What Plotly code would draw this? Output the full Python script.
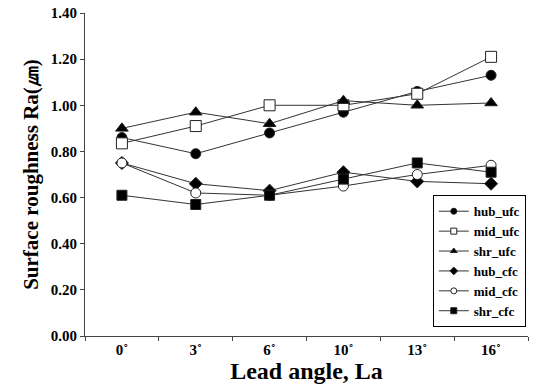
import plotly.graph_objects as go

angles = ["0˚", "3˚", "6˚", "10˚", "13˚", "16˚"]
hub_ufc = [0.86, 0.79, 0.88, 0.97, 1.06, 1.13]
mid_ufc = [0.835, 0.91, 1.00, 1.00, 1.05, 1.21]
shr_ufc = [0.90, 0.97, 0.92, 1.02, 1.00, 1.01]
hub_cfc = [0.75, 0.66, 0.63, 0.71, 0.67, 0.66]
mid_cfc = [0.75, 0.62, 0.61, 0.65, 0.70, 0.74]
shr_cfc = [0.61, 0.57, 0.61, 0.68, 0.75, 0.71]
y_ticks = [0.0, 0.2, 0.4, 0.6, 0.8, 1.0, 1.2, 1.4]

series = [
    ("hub_ufc", hub_ufc, "circle", "black", 10),
    ("mid_ufc", mid_ufc, "square", "white", 11),
    ("shr_ufc", shr_ufc, "triangle-up", "black", 11),
    ("hub_cfc", hub_cfc, "diamond", "black", 10),
    ("mid_cfc", mid_cfc, "circle", "white", 10),
    ("shr_cfc", shr_cfc, "square", "black", 10),
]

fig = go.Figure()
for name, vals, sym, col, sz in series:
    fig.add_trace(go.Scatter(
        x=angles, y=vals, name=name, mode="lines+markers", showlegend=False,
        line=dict(color="#333333", width=1),
        marker=dict(symbol=sym, size=sz, color=col,
                    line=dict(color="#222222", width=1)),
    ))
for name, vals, sym, col, sz in series:
    fig.add_trace(go.Scatter(
        x=[None], y=[None], name=name, mode="lines+markers",
        line=dict(color="#333333", width=1),
        marker=dict(symbol=sym, size=6, color=col,
                    line=dict(color="#222222", width=1)),
    ))

font_family = "Liberation Serif"
fig.update_layout(
    width=533, height=385,
    margin=dict(l=85, r=5, t=9, b=49),
    plot_bgcolor="white", paper_bgcolor="white",
    showlegend=True,
    font=dict(family=font_family, color="black"),
    legend=dict(
        x=0.995, y=0.027, xanchor="right", yanchor="bottom",
        bordercolor="black", borderwidth=1, bgcolor="white",
        font=dict(family=font_family, size=13, color="black", weight="bold"),
        tracegroupgap=0, itemwidth=30,
    ),
    xaxis=dict(
        type="category", range=[-0.5, 5.5],
        tickvals=angles, ticktext=[f"<b>{a}</b>" for a in angles],
        showline=True, linecolor="#444444", linewidth=1,
        ticks="outside", tickson="boundaries", ticklen=4, tickcolor="#444444",
        showgrid=False, zeroline=False,
        tickfont=dict(family=font_family, size=15, color="black"),
        title=dict(text="<b>Lead angle, La</b>", font=dict(family=font_family, size=24), standoff=4),
    ),
    yaxis=dict(
        range=[0, 1.4], tickvals=y_ticks,
        ticktext=[f"<b>{v:.2f}</b>" for v in y_ticks],
        showline=True, linecolor="#444444", linewidth=1,
        ticks="outside", ticklen=4, tickcolor="#444444",
        showgrid=False, zeroline=False,
        tickfont=dict(family=font_family, size=15, color="black"),
        title=dict(text="<b>Surface roughness Ra(㎛)</b>", font=dict(family=font_family, size=21), standoff=6),
    ),
)

fig.write_html("out.html")
